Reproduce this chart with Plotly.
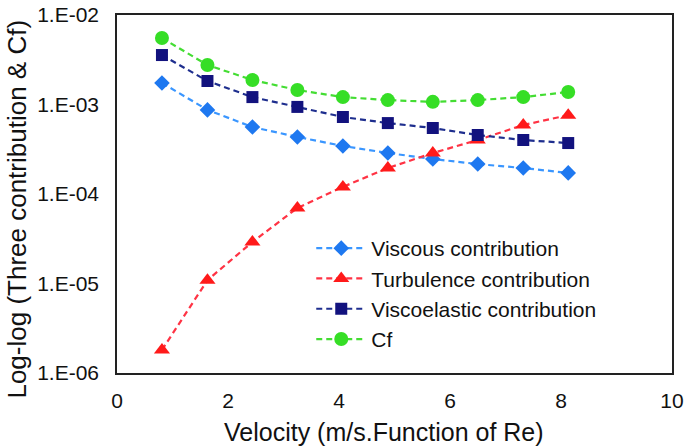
import plotly.graph_objects as go

velocity = [0.81, 1.63, 2.44, 3.25, 4.07, 4.88, 5.69, 6.50, 7.32, 8.13]
viscous = [1.74e-3, 8.7e-4, 5.6e-4, 4.34e-4, 3.44e-4, 2.87e-4, 2.46e-4, 2.16e-4, 1.95e-4, 1.72e-4]
turbulence = [1.81e-6, 1.09e-5, 2.91e-5, 6.98e-5, 1.20e-4, 1.95e-4, 2.87e-4, 4.01e-4, 5.9e-4, 7.6e-4]
viscoelastic = [3.57e-3, 1.83e-3, 1.21e-3, 9.4e-4, 7.25e-4, 6.2e-4, 5.46e-4, 4.56e-4, 4.01e-4, 3.71e-4]
cf = [5.53e-3, 2.76e-3, 1.88e-3, 1.45e-3, 1.21e-3, 1.12e-3, 1.07e-3, 1.12e-3, 1.21e-3, 1.38e-3]

y_tickvals = [1e-6, 1e-5, 1e-4, 1e-3, 1e-2]
y_ticktext = ["1.E-06", "1.E-05", "1.E-04", "1.E-03", "1.E-02"]
x_tickvals = [0, 2, 4, 6, 8, 10]

series_names = ["Viscous contribution", "Turbulence contribution", "Viscoelastic contribution", "Cf"]

FONT = "Liberation Sans, Arial, sans-serif"

fig = go.Figure()

styles = [
    (viscous, dict(symbol="diamond", size=12, color="#1E78F0"), "#3A96FF"),
    (turbulence, dict(symbol="triangle-up", size=14, color="#FF1A1A"), "#FF3344"),
    (viscoelastic, dict(symbol="square", size=12, color="#12127E"), "#1E2E8E"),
    (cf, dict(symbol="circle", size=14, color="#36DE26"), "#44DD33"),
]
for name, (vals, mk, lc) in zip(series_names, styles):
    fig.add_trace(go.Scatter(
        x=velocity, y=vals, name=name, mode="lines+markers",
        line=dict(color=lc, width=2.2, dash="6px,4px"),
        marker=dict(**mk, line=dict(width=0)),
    ))

fig.update_layout(
    width=685, height=448,
    margin=dict(l=117, r=13, t=15, b=75, autoexpand=False),
    paper_bgcolor="white", plot_bgcolor="white",
    font=dict(family=FONT, size=21, color="#111"),
    showlegend=True,
    legend=dict(
        x=0.35, y=0.405, xanchor="left", yanchor="top",
        bgcolor="rgba(0,0,0,0)", borderwidth=0,
        font=dict(family=FONT, size=21, color="#111"),
        itemwidth=50, tracegroupgap=0,
    ),
    xaxis=dict(
        range=[0, 10], tickvals=x_tickvals, showgrid=False, zeroline=False,
        showline=True, linecolor="#222", linewidth=1.5, mirror=True,
        ticks="", tickfont=dict(family=FONT, size=21, color="#111"),
        ticklabelstandoff=8, automargin=False,
    ),
    yaxis=dict(
        type="log", range=[-6, -2], tickvals=y_tickvals, ticktext=y_ticktext,
        showgrid=False, zeroline=False,
        showline=True, linecolor="#222", linewidth=1.5, mirror=True,
        ticks="", tickfont=dict(family=FONT, size=21, color="#111"),
        ticklabelstandoff=12, automargin=False,
    ),
)

fig.add_annotation(
    text="Velocity (m/s.Function of Re)", xref="paper", yref="paper",
    x=0.481, y=-0.165, xanchor="center", yanchor="middle", showarrow=False,
    font=dict(family=FONT, size=25, color="#111"),
)
fig.add_annotation(
    text="Log-log (Three contribution & Cf)", xref="paper", yref="paper",
    x=-0.181, y=0.458, xanchor="center", yanchor="middle", showarrow=False,
    textangle=-90,
    font=dict(family=FONT, size=26, color="#111"),
)

# remove the browser's default 8px body margin so the figure fills the window
fig.write_html(
    "out.html",
    config={"displayModeBar": False},
    post_script="document.body.style.margin='0';document.body.style.overflow='hidden';",
)
